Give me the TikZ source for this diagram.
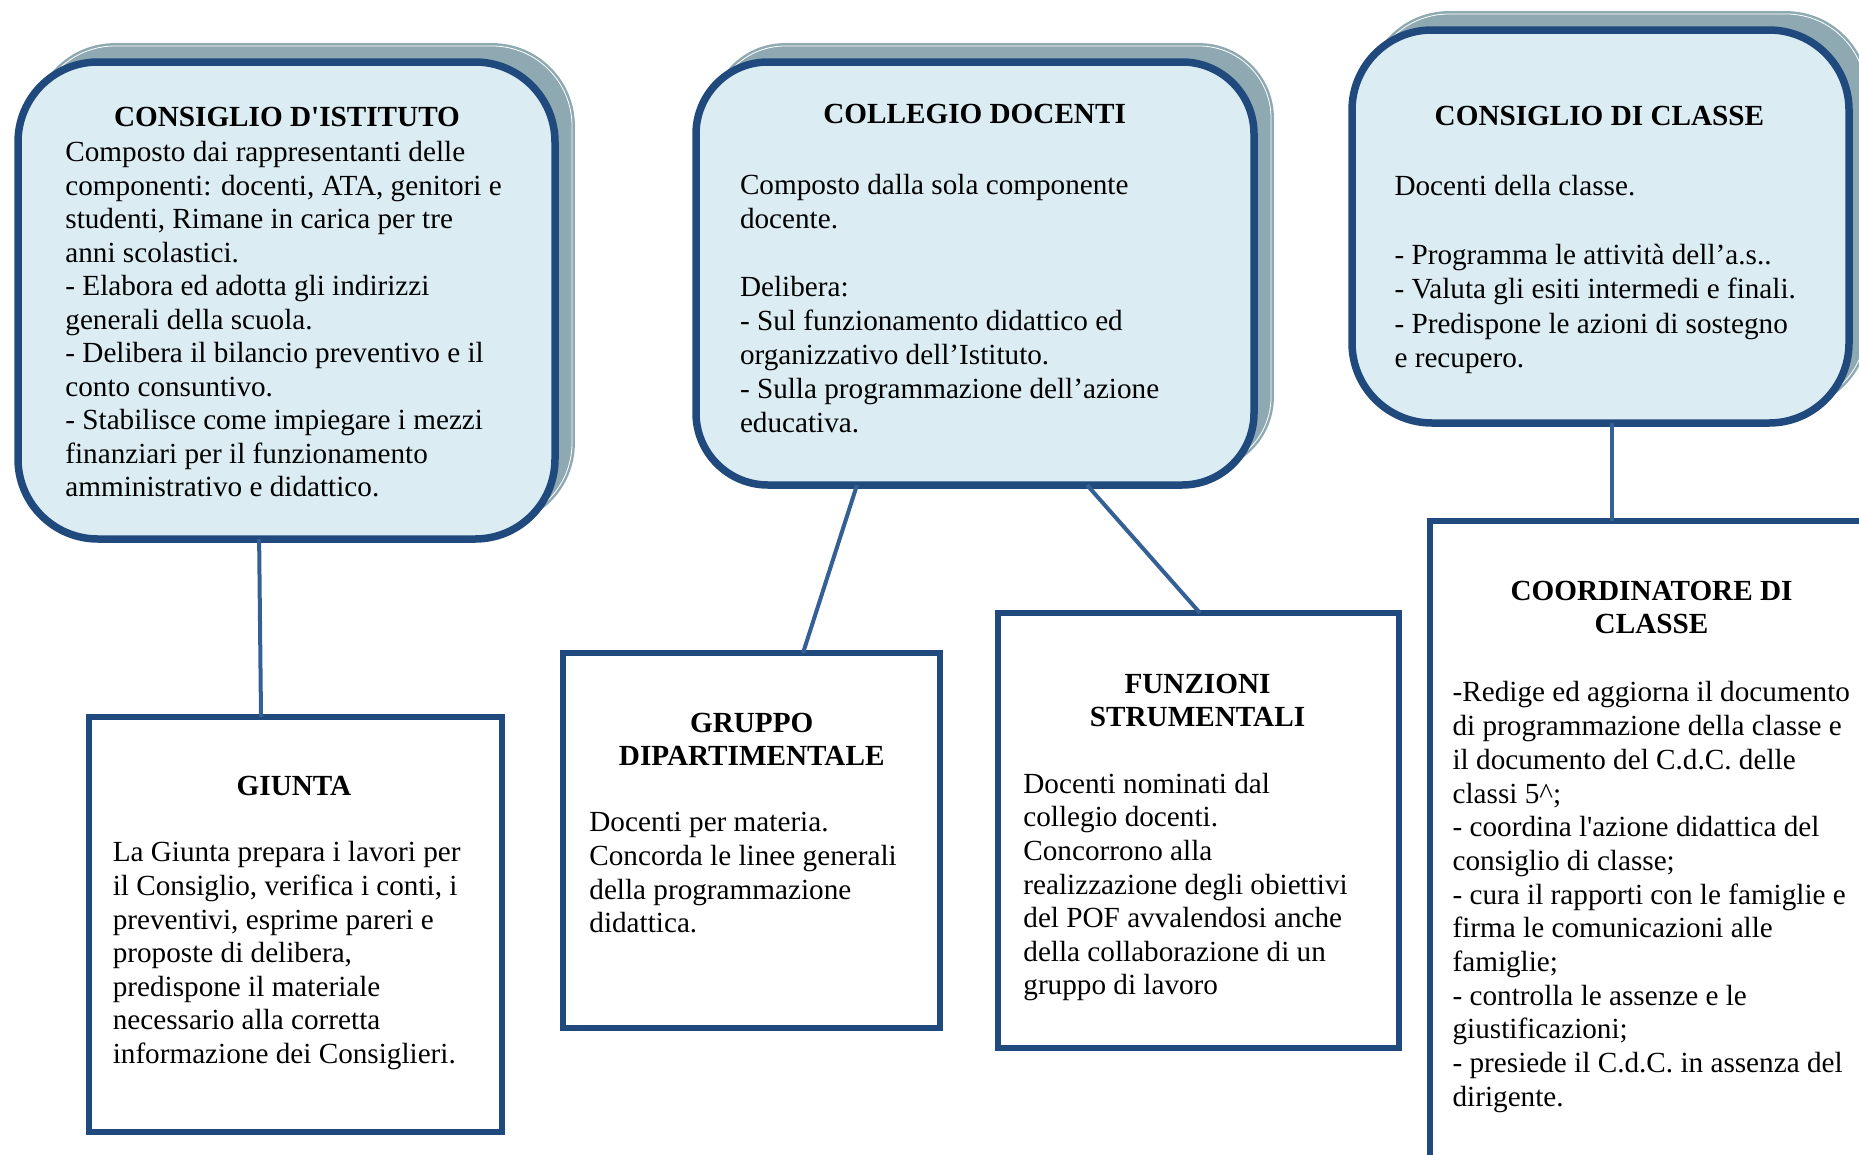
\documentclass[tikz,border=0pt]{standalone}
\usepackage{fontspec}
\setmainfont{Liberation Serif}
\usetikzlibrary{calc,shadows}
\definecolor{bord}{RGB}{32,74,125}
\definecolor{conn}{RGB}{52,96,150}
\definecolor{fillb}{RGB}{219,237,243}
\definecolor{shad}{RGB}{142,169,177}
\begin{document}
\begin{tikzpicture}[x=1pt,y=-1pt,
  roundbox/.style={rectangle, draw=bord, line width=7.5pt, fill=fillb, inner sep=0pt, outer sep=0pt,
    copy shadow={shadow xshift=17pt, shadow yshift=16pt, fill=shad, draw=shad, double=white, double distance=0.8pt, line width=2.5pt}},
  rectbox/.style={rectangle, draw=bord, line width=6pt, fill=white, inner sep=0pt, outer sep=0pt},
  conline/.style={draw=conn, line width=4pt},
  bodytext/.style={align=left, inner sep=0pt, anchor=north west, font=\fontsize{29.2}{33.6}\selectfont, execute at begin node=\strut},
  titletext/.style={align=center, inner sep=0pt, anchor=center, font=\fontsize{29.2}{33.2}\selectfont\bfseries}
]
\useasboundingbox (0,0) rectangle (1859,1154);
\clip (0,0) rectangle (1859,1154);

% top rounded boxes
\node[roundbox, rounded corners=80pt, minimum width=537pt, minimum height=477pt] (ci) at (286.5,300.5) {};
\node[roundbox, rounded corners=72pt, minimum width=558pt, minimum height=423pt] (cd) at (975,273.5) {};
\node[roundbox, rounded corners=80pt, minimum width=497pt, minimum height=393pt] (cc) at (1600.5,226.5) {};

% lower boxes
\node[rectbox, minimum width=412.5pt, minimum height=415pt] (gi) at (295.25,924.5) {};
\node[rectbox, minimum width=377pt, minimum height=375pt] (gd) at (751.5,840.5) {};
\node[rectbox, minimum width=401pt, minimum height=435pt] (fs) at (1198.5,830.5) {};
\node[rectbox, minimum width=490pt, minimum height=679pt] (co) at (1675,860.5) {};

% titles
\node[titletext] (ci-h) at (287,117.4) {CONSIGLIO D\textquotesingle ISTITUTO};
\node[titletext] (cd-h) at (974.6,114.4) {COLLEGIO DOCENTI};
\node[titletext] (cc-h) at (1599.4,115.8) {CONSIGLIO DI CLASSE};
\node[titletext] (gi-h) at (294,785.5) {GIUNTA};
\node[titletext] (gd-h) at (751.7,739.4) {GRUPPO\\DIPARTIMENTALE};
\node[titletext] (fs-h) at (1197.5,700.3) {FUNZIONI\\STRUMENTALI};
\node[titletext] (co-h) at (1651.5,607.8) {COORDINATORE DI\\CLASSE};

% bodies
\node[bodytext, font=\fontsize{29.2}{33.55}\selectfont] (ci-t) at (65.2,141) {Composto dai rappresentanti delle\\
componenti: docenti, ATA, genitori e\\
studenti, Rimane in carica per tre\\
anni scolastici.\\
- Elabora ed adotta gli indirizzi\\
generali della scuola.\\
- Delibera il bilancio preventivo e il\\
conto consuntivo.\\
- Stabilisce come impiegare i mezzi\\
finanziari per il funzionamento\\
amministrativo e didattico.};

\node[bodytext, font=\fontsize{29.2}{34}\selectfont] (cd-t) at (739.8,174.2) {Composto dalla sola componente\\
docente.\\[34pt]
Delibera:\\
- Sul funzionamento didattico ed\\
organizzativo dell’Istituto.\\
- Sulla programmazione dell’azione\\
educativa.};

\node[bodytext, font=\fontsize{29.2}{34.4}\selectfont] (cc-t) at (1394.3,175.3) {Docenti della classe.\\[34.4pt]
- Programma le attività dell’a.s..\\
- Valuta gli esiti intermedi e finali.\\
- Predispone le azioni di sostegno\\
e recupero.};

\node[bodytext] (gi-t) at (112.6,841.5) {La Giunta prepara i lavori per\\
il Consiglio, verifica i conti, i\\
preventivi, esprime pareri e\\
proposte di delibera,\\
predispone il materiale\\
necessario alla corretta\\
informazione dei Consiglieri.};

\node[bodytext] (gd-t) at (589.2,812.3) {Docenti per materia.\\
Concorda le linee generali\\
della programmazione\\
didattica.};

\node[bodytext] (fs-t) at (1023.2,772.8) {Docenti nominati dal\\
collegio docenti.\\
Concorrono alla\\
realizzazione degli obiettivi\\
del POF avvalendosi anche\\
della collaborazione di un\\
gruppo di lavoro};

\node[bodytext, font=\fontsize{29.2}{33.7}\selectfont] (co-t) at (1452.4,681.5) {-Redige ed aggiorna il documento\\
di programmazione della classe e\\
il documento del C.d.C. delle\\
classi 5\textasciicircum;\\
- coordina l\textquotesingle azione didattica del\\
consiglio di classe;\\
- cura il rapporti con le famiglie e\\
firma le comunicazioni alle\\
famiglie;\\
- controlla le assenze e le\\
giustificazioni;\\
- presiede il C.d.C. in assenza del\\
dirigente.};

% connectors
\draw[conline] ($(ci.south west)!0.449!(ci.south east)$) -- ($(gi.north west)!0.417!(gi.north east)$);
\draw[conline] ($(cd.south west)!0.2885!(cd.south east)$) -- ($(gd.north west)!0.6366!(gd.north east)$);
\draw[conline] ($(cd.south west)!0.7007!(cd.south east)$) -- ($(fs.north west)!0.5037!(fs.north east)$);
\draw[conline] ($(cc.south west)!0.523!(cc.south east)$) coordinate (c4a) -- (c4a |- co.north);
\end{tikzpicture}
\end{document}
